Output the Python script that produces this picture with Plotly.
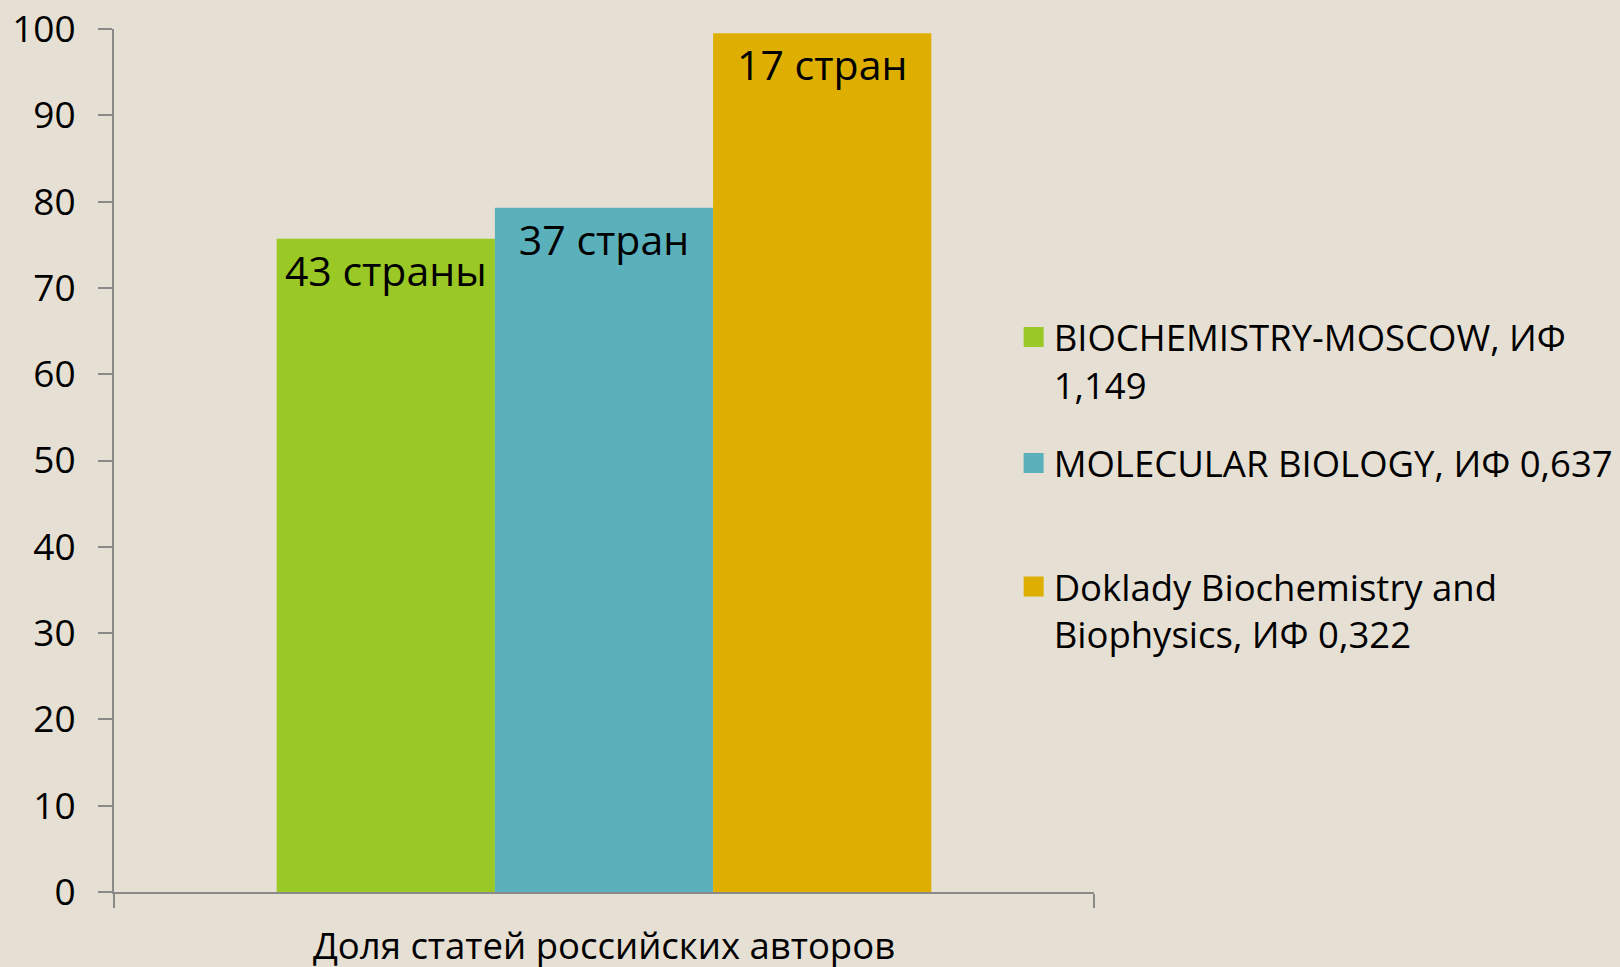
import plotly.graph_objects as go

# data
category = ["Доля статей российских авторов"]
journals = [
    "BIOCHEMISTRY-MOSCOW, ИФ<br>1,149",
    "MOLECULAR BIOLOGY, ИФ 0,637",
    "Doklady Biochemistry and<br>Biophysics, ИФ 0,322",
]
shares = [75.7, 79.3, 99.5]
countries = ["43 страны", "37 стран", "17 стран"]
colors = ["#9ac824", "#5ab0bb", "#deaf00"]
legend_ids = ["legend", "legend2", "legend3"]
y_ticks = [0, 10, 20, 30, 40, 50, 60, 70, 80, 90, 100]

font_name = "Open Sans"
axis_grey = "#8a8a8a"
bg = "#e6dfd3"

fig = go.Figure()

for name, val, lab, col in zip(journals, shares, countries, colors):
    fig.add_trace(go.Bar(
        x=category,
        y=[val],
        name=name,
        marker=dict(color=col, line=dict(width=0)),
        text=[lab],
        textposition="inside",
        insidetextanchor="end",
        textangle=0,
        constraintext="none",
        textfont=dict(family=font_name, size=41, color="black"),
        showlegend=False,
        hoverinfo="skip",
    ))

# legend entries with bigger squares than the default bar swatch
for name, col, lg in zip(journals, colors, legend_ids):
    fig.add_trace(go.Scatter(
        x=[None],
        y=[None],
        mode="markers",
        name=name,
        marker=dict(symbol="square", size=16, color=col, line=dict(color=col, width=4)),
        legend=lg,
        showlegend=True,
    ))

leg_style = dict(
    font=dict(family=font_name, size=36.5, color="black"),
    bgcolor="rgba(0,0,0,0)",
    xanchor="left",
    yanchor="top",
    valign="top",
    itemwidth=30,
)

fig.update_layout(
    width=1620,
    height=967,
    paper_bgcolor=bg,
    plot_bgcolor="rgba(0,0,0,0)",
    # legends sit near the right edge; don't let them squeeze the plot
    margin=dict(l=114, r=526, t=29, b=75, autoexpand=False),
    barmode="group",
    bargap=0.332,
    bargroupgap=0,
    font=dict(family=font_name, size=36, color="black"),
    legend=dict(x=0.918, y=0.678, **leg_style),
    legend2=dict(x=0.918, y=0.532, **leg_style),
    legend3=dict(x=0.918, y=0.389, **leg_style),
    xaxis=dict(
        type="category",
        automargin=False,
        showline=True,
        linecolor=axis_grey,
        linewidth=2,
        ticks="outside",
        tickson="boundaries",
        ticklen=14,
        tickwidth=2,
        tickcolor=axis_grey,
        showgrid=False,
        ticklabelstandoff=21,
        tickfont=dict(family=font_name, size=36.5, color="black"),
    ),
    yaxis=dict(
        range=[0, 100],
        tickvals=y_ticks,
        automargin=False,
        showline=True,
        linecolor=axis_grey,
        linewidth=2,
        ticks="outside",
        ticklen=14,
        tickwidth=2,
        tickcolor=axis_grey,
        showgrid=False,
        zeroline=False,
        ticklabelstandoff=15,
        tickfont=dict(family=font_name, size=37, color="black"),
    ),
)

# drop the page margin and scrollbars so the figure sits flush with the window
page_fix = (
    "document.body.style.margin='0';"
    "document.body.style.overflow='hidden';"
    "document.documentElement.style.overflow='hidden';"
    "document.body.style.background='" + bg + "';"
)
fig.write_html("out.html", post_script=page_fix, config={"displayModeBar": False})
